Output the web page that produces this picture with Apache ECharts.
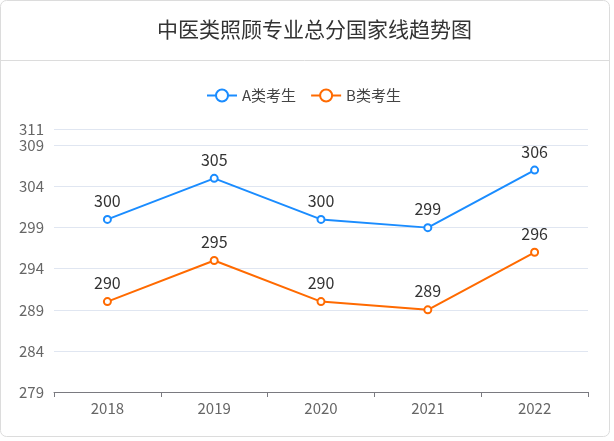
<!DOCTYPE html>
<html>
<head>
<meta charset="utf-8">
<script src="https://cdn.jsdelivr.net/npm/echarts@6/dist/echarts.min.js"></script>
<style>
html,body{margin:0;padding:0;background:#fff;}
#chart{width:614px;height:441px;}
</style>
</head>
<body>
<div id="chart"></div>
<script>
var title = '中医类照顾专业总分国家线趋势图';
var categories = ['2018', '2019', '2020', '2021', '2022'];
var seriesNames = ['A类考生', 'B类考生'];
var seriesA = [300, 305, 300, 299, 306];
var seriesB = [290, 295, 290, 289, 296];
var yMin = 279, yMax = 311, yInterval = 5;

var font = '"Noto Sans CJK SC", "Noto Sans", sans-serif';
var chart = echarts.init(document.getElementById('chart'));
chart.setOption({
  animation: false,
  textStyle: { fontFamily: font },
  graphic: [
    { type: 'rect', shape: { x: 0.5, y: 0.5, width: 609, height: 436, r: 6 }, style: { fill: 'none', stroke: '#dcdcdc', lineWidth: 1 }, z: -1 },
    { type: 'line', shape: { x1: 0, y1: 60.5, x2: 609, y2: 60.5 }, style: { stroke: '#dcdcdc', lineWidth: 1 }, z: -1 }
  ],
  title: {
    text: title,
    left: 152,
    top: 14,
    textStyle: { fontSize: 21, fontWeight: 'normal', color: '#333', fontFamily: font }
  },
  legend: {
    left: 201,
    top: 83,
    itemWidth: 30,
    itemHeight: 15,
    itemGap: 14,
    textStyle: { fontSize: 15, color: '#444', fontFamily: font },
    data: seriesNames
  },
  grid: { left: 54, right: 26, top: 129, bottom: 49 },
  xAxis: {
    type: 'category',
    data: categories,
    boundaryGap: true,
    axisLine: { lineStyle: { color: '#7a7a80' } },
    axisTick: { show: true, length: 5, lineStyle: { color: '#7a7a80' } },
    axisLabel: { fontSize: 15, color: '#666', margin: 9, fontFamily: font }
  },
  yAxis: {
    type: 'value',
    min: yMin,
    max: yMax,
    interval: yInterval,
    axisLine: { show: false },
    axisTick: { show: false },
    axisLabel: { fontSize: 15, color: '#666', margin: 10, fontFamily: font },
    splitLine: { lineStyle: { color: '#e0e6f1' } }
  },
  series: [
    {
      name: seriesNames[0], type: 'line', data: seriesA,
      symbol: 'emptyCircle', symbolSize: 7,
      itemStyle: { color: '#1a8cff' },
      lineStyle: { width: 2, color: '#1a8cff' },
      label: { show: true, position: 'top', fontSize: 16, color: '#333', distance: 6, fontFamily: font }
    },
    {
      name: seriesNames[1], type: 'line', data: seriesB,
      symbol: 'emptyCircle', symbolSize: 7,
      itemStyle: { color: '#ff6a00' },
      lineStyle: { width: 2, color: '#ff6a00' },
      label: { show: true, position: 'top', fontSize: 16, color: '#333', distance: 6, fontFamily: font }
    }
  ]
});
</script>
</body>
</html>
